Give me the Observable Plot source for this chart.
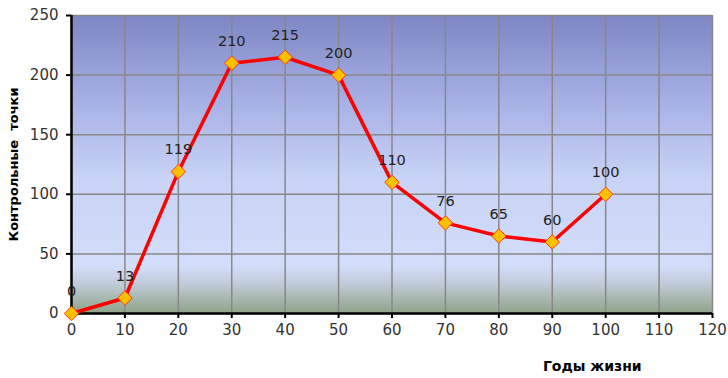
<!DOCTYPE html>
<html>
<head>
<meta charset="utf-8">
<script src="https://cdn.jsdelivr.net/npm/d3@7"></script>
<script src="https://cdn.jsdelivr.net/npm/@observablehq/plot@0.6"></script>
<style>
  html, body { margin: 0; padding: 0; background: #fff; }
  #chart svg { display: block; }
</style>
</head>
<body>
<div id="chart"></div>
<script>
const years = [0, 10, 20, 30, 40, 50, 60, 70, 80, 90, 100];
const points = [0, 13, 119, 210, 215, 200, 110, 76, 65, 60, 100];
const xTicks = [0, 10, 20, 30, 40, 50, 60, 70, 80, 90, 100, 110, 120];
const yTicks = [0, 50, 100, 150, 200, 250];
const xTitle = "Годы жизни";
const yTitle = "Контрольные  точки";

const data = years.map((x, i) => ({x, y: points[i]}));

function gradientDefs() {
  const defs = d3.create("svg:defs");
  const g = defs.append("linearGradient")
    .attr("id", "bgGrad").attr("x1", 0).attr("y1", 0).attr("x2", 0).attr("y2", 1);
  [
    [0, "#7e86c4"],
    [0.3, "#a9b2e6"],
    [0.55, "#c8d3f6"],
    [0.84, "#d3defb"],
    [0.9, "#c0cbd9"],
    [1, "#8ea386"]
  ].forEach(([o, c]) => g.append("stop").attr("offset", o).attr("stop-color", c));
  return defs.node();
}

const chart = Plot.plot({
  width: 728,
  height: 378,
  marginLeft: 71,
  marginRight: 16,
  marginTop: 15,
  marginBottom: 65,
  style: {fontFamily: "DejaVu Sans", fontSize: "15px", color: "#333", background: "#fff"},
  x: {domain: [0, 120], ticks: xTicks},
  y: {domain: [0, 250], ticks: yTicks},
  marks: [
    gradientDefs,
    Plot.frame({fill: "url(#bgGrad)", stroke: "#cfc8bf", strokeWidth: 1}),
    Plot.gridX(xTicks, {stroke: "#888", strokeOpacity: 1, strokeWidth: 1.5}),
    Plot.gridY(yTicks, {stroke: "#888", strokeOpacity: 1, strokeWidth: 1.5}),
    Plot.axisX(xTicks, {label: null, tickSize: 5, tickPadding: 6, stroke: "#000", strokeWidth: 2, fill: "#333", fontSize: 15}),
    Plot.axisY(yTicks, {label: null, tickSize: 5, tickPadding: 8, stroke: "#000", strokeWidth: 2, fill: "#333", fontSize: 15}),
    Plot.ruleX([0], {stroke: "#000", strokeWidth: 2.5}),
    Plot.ruleY([0], {stroke: "#000", strokeWidth: 2.5}),
    Plot.line(data, {x: "x", y: "y", stroke: "#ff0000", strokeWidth: 3.5, strokeLinejoin: "round"}),
    Plot.dot(data, {x: "x", y: "y", symbol: "diamond2", r: 6.5, fill: "#ffc000", stroke: "#ff3c00", strokeWidth: 1}),
    Plot.text(data, {x: "x", y: "y", text: d => String(d.y), dy: -22, fill: "#222", fontSize: 14.5}),
    Plot.text([xTitle], {x: 97.5, frameAnchor: "bottom", dy: 57, fontWeight: "bold", fontSize: 14, fill: "#000"}),
    Plot.text([yTitle], {frameAnchor: "left", textAnchor: "middle", dx: -58, rotate: -90, fontWeight: "bold", fontSize: 13, fill: "#000"})
  ]
});
document.getElementById("chart").appendChild(chart);
</script>
</body>
</html>
